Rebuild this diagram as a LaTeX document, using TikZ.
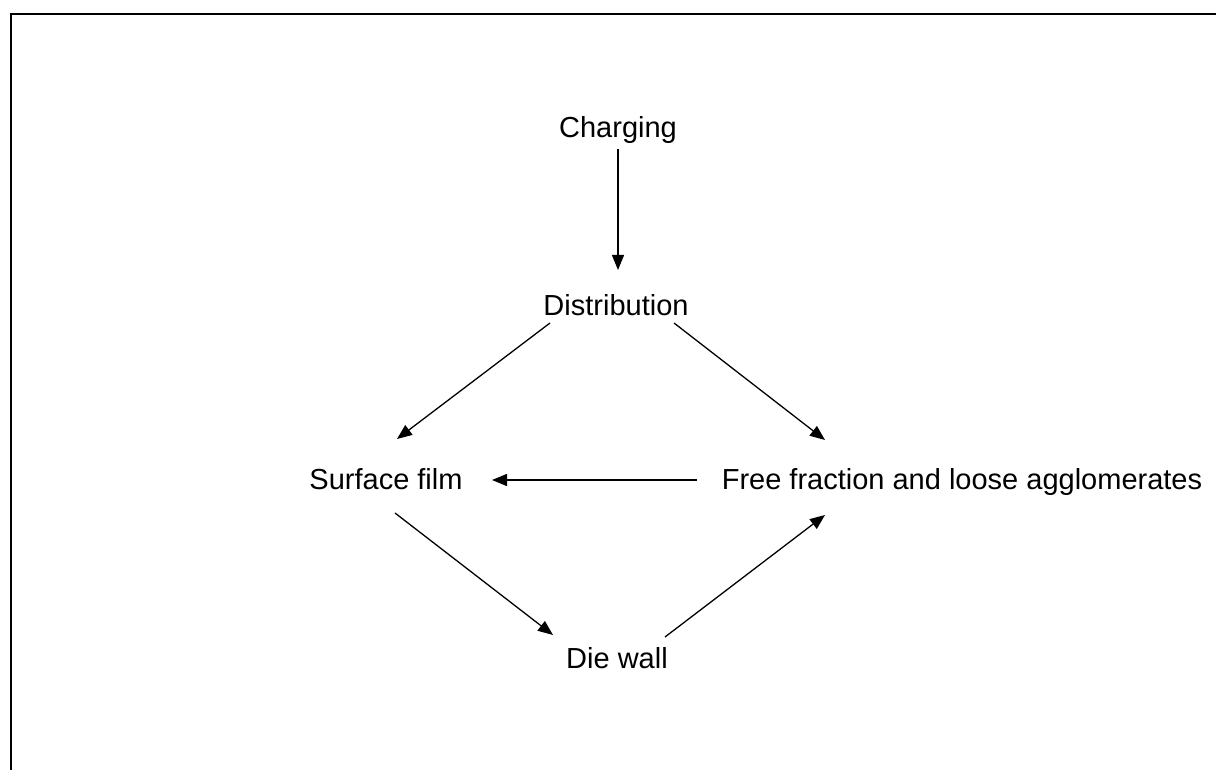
\documentclass[tikz,border=0pt]{standalone}
\usepackage{fontspec}
\setmainfont{Liberation Sans}
\usepackage{tikz}
\usetikzlibrary{arrows.meta, calc}

\begin{document}
\begin{tikzpicture}[x = 0.5pt, y = -0.5pt,
    freccia/.style = {-{Triangle[length = 7.5pt, width = 6pt]}, line width = 0.65pt},
    etichetta/.style = {anchor = base, inner sep = 0pt, font = \fontsize{14.5}{17}\selectfont}]
    % Riquadro
    \useasboundingbox (0,0) rectangle (1216,770);
    \draw[line width = 0.9pt] (1216,14) -- (11,14) -- (11,770);
    % Nodi
    \node[etichetta] (charg) at (618,138) {Charging};
    \node[etichetta] (distr) at (616,316) {Distribution};
    \node[etichetta] (surf) at (386,489) {Surface film};
    \node[etichetta] (free) at (962,489) {Free fraction and loose agglomerates};
    \node[etichetta] (wall) at (617,668) {Die wall};
    % Frecce
    \draw[freccia] ($(charg.base)+(0,11)$) -- ($(distr.base)+(2,-46)$);
    \draw[freccia] ($(distr.base)+(-66,7)$) -- ($(surf.base)+(11,-50)$);
    \draw[freccia] ($(distr.base)+(58,7)$) -- ($(free.base)+(-137,-49)$);
    \draw[freccia] ($(free.base)+(-265,-9)$) -- ($(surf.base)+(106,-9)$);
    \draw[freccia] ($(surf.base)+(9,24)$) -- ($(wall.base)+(-64,-33)$);
    \draw[freccia] ($(wall.base)+(48,-31)$) -- ($(free.base)+(-137,26)$);
\end{tikzpicture}
\end{document}
